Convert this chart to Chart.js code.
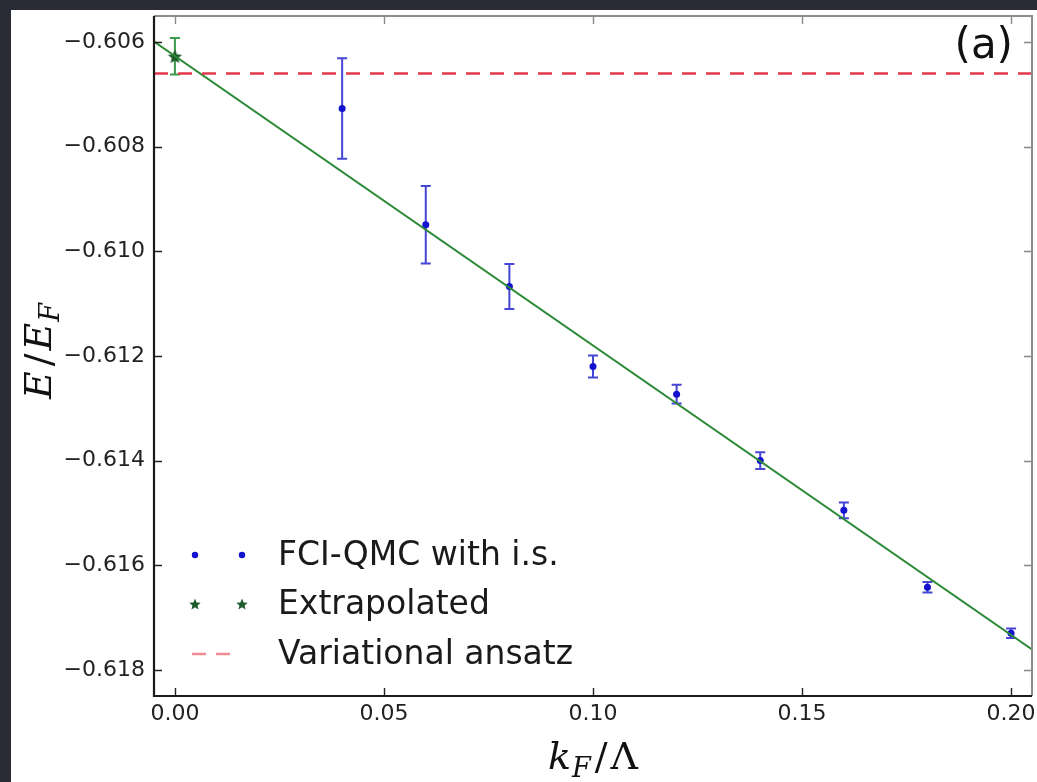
<!DOCTYPE html>
<html>
<head>
<meta charset="utf-8">
<script src="https://cdn.jsdelivr.net/npm/chart.js@4.4.1/dist/chart.umd.min.js"></script>
<style>
  html, body { margin: 0; padding: 0; width: 1037px; height: 782px; overflow: hidden; background: #2a2c35; }
  #panel { position: absolute; left: 11px; top: 10px; width: 1026px; height: 772px; background: #ffffff; }
  canvas { display: block; }
</style>
</head>
<body>
<div id="panel"><canvas id="chart" width="1026" height="772"></canvas></div>
<script>
// FCI-QMC energies (with importance sampling) versus k_F / Lambda
const kF        = [0.04, 0.06, 0.08, 0.10, 0.12, 0.14, 0.16, 0.18, 0.20];
const energy    = [-0.60727, -0.60949, -0.61067, -0.61220, -0.61273, -0.61400, -0.61495, -0.61642, -0.61730];
const energyErr = [0.00096, 0.00074, 0.00043, 0.00021, 0.00018, 0.00016, 0.00015, 0.00010, 0.00009];

// value extrapolated to k_F / Lambda -> 0
const extrapK   = [0.0];
const extrapE   = [-0.60627];
const extrapErr = [0.00035];

// linear fit through the QMC points (end points at the axis limits)
const fitK = [-0.005, 0.205];
const fitE = [-0.60599, -0.61761];

// variational ansatz reference energy
const variationalE = -0.6066;

// axes
const xRange = [-0.005, 0.205];
const yRange = [-0.6185, -0.6055];
const xTicks = [0.00, 0.05, 0.10, 0.15, 0.20];
const yTicks = [-0.606, -0.608, -0.610, -0.612, -0.614, -0.616, -0.618];

const legendLabels = ['FCI-QMC with i.s.', 'Extrapolated', 'Variational ansatz'];

const BLUE = '#1212cf', BLUE_ERR = '#4545d6';
const GREEN = '#2b8a37', STAR = '#1d5a2b', STAR_ERR = '#3b9a4b';
const RED = '#e23a4c';

function starImage(r, color) {
  const c = document.createElement('canvas');
  const s = Math.ceil(r * 2 + 2);
  c.width = s; c.height = s;
  const g = c.getContext('2d');
  g.fillStyle = color;
  g.beginPath();
  for (let i = 0; i < 10; i++) {
    const rr = i % 2 === 0 ? r : r * 0.45;
    const ang = -Math.PI / 2 + i * Math.PI / 5;
    const px = s / 2 + rr * Math.cos(ang), py = s / 2 + rr * Math.sin(ang) + r * 0.1;
    i === 0 ? g.moveTo(px, py) : g.lineTo(px, py);
  }
  g.closePath();
  g.fill();
  return c;
}
const bigStar = starImage(7.5, STAR);
const smallStar = starImage(6, STAR);

const fmtMinus = (v, d) => (v < 0 ? '\u2212' : '') + Math.abs(v).toFixed(d);

// vertical error bars with caps, drawn below the markers
const errorBars = {
  id: 'errorBars',
  beforeDatasetsDraw(chart) {
    const { ctx, scales: { x, y } } = chart;
    const draw = (xs, ys, es, color) => {
      ctx.strokeStyle = color;
      ctx.lineWidth = 2;
      ctx.beginPath();
      xs.forEach((xv, i) => {
        const px = x.getPixelForValue(xv);
        const top = y.getPixelForValue(ys[i] + es[i]);
        const bot = y.getPixelForValue(ys[i] - es[i]);
        ctx.moveTo(px, top); ctx.lineTo(px, bot);
        ctx.moveTo(px - 5, top); ctx.lineTo(px + 5, top);
        ctx.moveTo(px - 5, bot); ctx.lineTo(px + 5, bot);
      });
      ctx.stroke();
    };
    ctx.save();
    draw(kF, energy, energyErr, BLUE_ERR);
    draw(extrapK, extrapE, extrapErr, STAR_ERR);
    ctx.restore();
  }
};

function drawMath(ctx, parts, size, cx, baseY) {
  const fam = '"DejaVu Serif", serif';
  const fontOf = p => (p.it ? 'italic ' : '') + (p.sub ? Math.round(size * 0.7) : size) + 'px ' + fam;
  let total = 0;
  parts.forEach(p => { ctx.font = fontOf(p); p.w = ctx.measureText(p.t).width; total += (p.gap || 0) + p.w; });
  let xx = cx - total / 2;
  ctx.textAlign = 'left';
  ctx.textBaseline = 'alphabetic';
  parts.forEach(p => {
    xx += p.gap || 0;
    ctx.font = fontOf(p);
    ctx.fillText(p.t, xx, baseY + (p.sub ? size * 0.22 : 0));
    xx += p.w;
  });
}

// frame, inward ticks, axis titles, panel tag and legend
const decorations = {
  id: 'decorations',
  afterDraw(chart) {
    const { ctx, chartArea: a, scales: { x, y } } = chart;
    ctx.save();
    const L = 8;
    // ticks on bottom/left
    ctx.lineWidth = 1.4;
    ctx.strokeStyle = '#222';
    ctx.beginPath();
    xTicks.forEach(v => { const p = Math.round(x.getPixelForValue(v)) + 0.5; ctx.moveTo(p, a.bottom); ctx.lineTo(p, a.bottom - L); });
    yTicks.forEach(v => { const p = Math.round(y.getPixelForValue(v)) + 0.5; ctx.moveTo(a.left, p); ctx.lineTo(a.left + L, p); });
    ctx.stroke();
    // ticks on top/right
    ctx.strokeStyle = '#888';
    ctx.beginPath();
    xTicks.forEach(v => { const p = Math.round(x.getPixelForValue(v)) + 0.5; ctx.moveTo(p, a.top); ctx.lineTo(p, a.top + L); });
    yTicks.forEach(v => { const p = Math.round(y.getPixelForValue(v)) + 0.5; ctx.moveTo(a.right, p); ctx.lineTo(a.right - L, p); });
    ctx.stroke();
    // frame
    ctx.lineWidth = 2;
    ctx.strokeStyle = '#8c8c8c';
    ctx.beginPath();
    ctx.moveTo(a.left, a.top); ctx.lineTo(a.right, a.top); ctx.lineTo(a.right, a.bottom);
    ctx.stroke();
    ctx.strokeStyle = '#1a1a1a';
    ctx.lineWidth = 2.2;
    ctx.beginPath();
    ctx.moveTo(a.left, a.top); ctx.lineTo(a.left, a.bottom); ctx.lineTo(a.right, a.bottom);
    ctx.stroke();

    // panel tag
    ctx.fillStyle = '#111';
    ctx.font = '42px "DejaVu Sans", sans-serif';
    ctx.textAlign = 'right';
    ctx.textBaseline = 'middle';
    ctx.fillText('(a)', a.right - 19, a.top + 31);

    // axis titles
    ctx.fillStyle = '#111';
    drawMath(ctx, [
      { t: 'k', it: true },
      { t: 'F', it: true, sub: true, gap: 1 },
      { t: '/', gap: 4 },
      { t: '\u039B', gap: 3 }
    ], 38, (a.left + a.right) / 2, a.bottom + 73);
    ctx.save();
    ctx.translate(40, (a.top + a.bottom) / 2 - 5);
    ctx.rotate(-Math.PI / 2);
    drawMath(ctx, [
      { t: 'E', it: true },
      { t: '/', gap: 5 },
      { t: 'E', it: true, gap: 3 },
      { t: 'F', it: true, sub: true, gap: 1 }
    ], 38, 0, 0);
    ctx.restore();

    // legend
    const rows = [a.bottom - 141, a.bottom - 92, a.bottom - 42];
    const m1 = a.left + 41, m2 = a.left + 88, tx = a.left + 124;
    ctx.fillStyle = BLUE;
    [m1, m2].forEach(mx => { ctx.beginPath(); ctx.arc(mx, rows[0], 3.2, 0, Math.PI * 2); ctx.fill(); });
    [m1, m2].forEach(mx => ctx.drawImage(smallStar, mx - smallStar.width / 2, rows[1] - smallStar.height / 2));
    ctx.strokeStyle = '#ee8a94';
    ctx.lineWidth = 2.5;
    ctx.setLineDash([14, 10]);
    ctx.beginPath(); ctx.moveTo(a.left + 38, rows[2]); ctx.lineTo(a.left + 76, rows[2]); ctx.stroke();
    ctx.setLineDash([]);
    ctx.fillStyle = '#1a1a1a';
    ctx.font = '33px "DejaVu Sans", sans-serif';
    ctx.textAlign = 'left';
    ctx.textBaseline = 'alphabetic';
    legendLabels.forEach((t, i) => ctx.fillText(t, tx, rows[i] + 10));
    ctx.restore();
  }
};

const toPts = (xs, ys) => xs.map((v, i) => ({ x: v, y: ys[i] }));

new Chart(document.getElementById('chart'), {
  type: 'scatter',
  data: {
    datasets: [
      {
        label: legendLabels[2],
        type: 'line',
        data: toPts(xRange, [variationalE, variationalE]),
        borderColor: RED,
        borderWidth: 2.5,
        borderDash: [14, 10],
        pointRadius: 0,
        pointHoverRadius: 0,
        pointBorderWidth: 0,
        fill: false
      },
      {
        label: 'fit',
        type: 'line',
        data: toPts(fitK, fitE),
        borderColor: GREEN,
        borderWidth: 2,
        pointRadius: 0,
        pointHoverRadius: 0,
        pointBorderWidth: 0,
        fill: false
      },
      {
        label: legendLabels[0],
        data: toPts(kF, energy),
        pointRadius: 3.5,
        pointHoverRadius: 0,
        pointBackgroundColor: BLUE,
        pointBorderWidth: 0
      },
      {
        label: legendLabels[1],
        data: toPts(extrapK, extrapE),
        pointStyle: bigStar,
        pointRadius: 1,
        pointHoverRadius: 0,
        pointBorderWidth: 0
      }
    ]
  },
  options: {
    responsive: false,
    animation: false,
    devicePixelRatio: 1,
    layout: { padding: { top: 6, right: 5, left: 0, bottom: 0 } },
    plugins: { legend: { display: false }, tooltip: { enabled: false } },
    scales: {
      x: {
        type: 'linear',
        min: xRange[0],
        max: xRange[1],
        grid: { display: false, drawTicks: false, tickLength: 0 },
        border: { display: false },
        afterBuildTicks: s => { s.ticks = xTicks.map(v => ({ value: v })); },
        afterFit: s => { s.height = 86; s.paddingLeft = 0; s.paddingRight = 0; },
        ticks: {
          autoSkip: false, maxRotation: 0, padding: 5,
          color: '#222',
          font: { family: '"DejaVu Sans", sans-serif', size: 22 },
          callback: v => fmtMinus(v, 2)
        }
      },
      y: {
        type: 'linear',
        min: yRange[0],
        max: yRange[1],
        grid: { display: false, drawTicks: false, tickLength: 0 },
        border: { display: false },
        afterBuildTicks: s => { s.ticks = yTicks.map(v => ({ value: v })); },
        afterFit: s => { s.width = 143; s.paddingTop = 0; s.paddingBottom = 0; },
        ticks: {
          autoSkip: false, padding: 9,
          color: '#222',
          font: { family: '"DejaVu Sans", sans-serif', size: 22 },
          callback: v => fmtMinus(v, 3)
        }
      }
    }
  },
  plugins: [errorBars, decorations]
});
</script>
</body>
</html>
